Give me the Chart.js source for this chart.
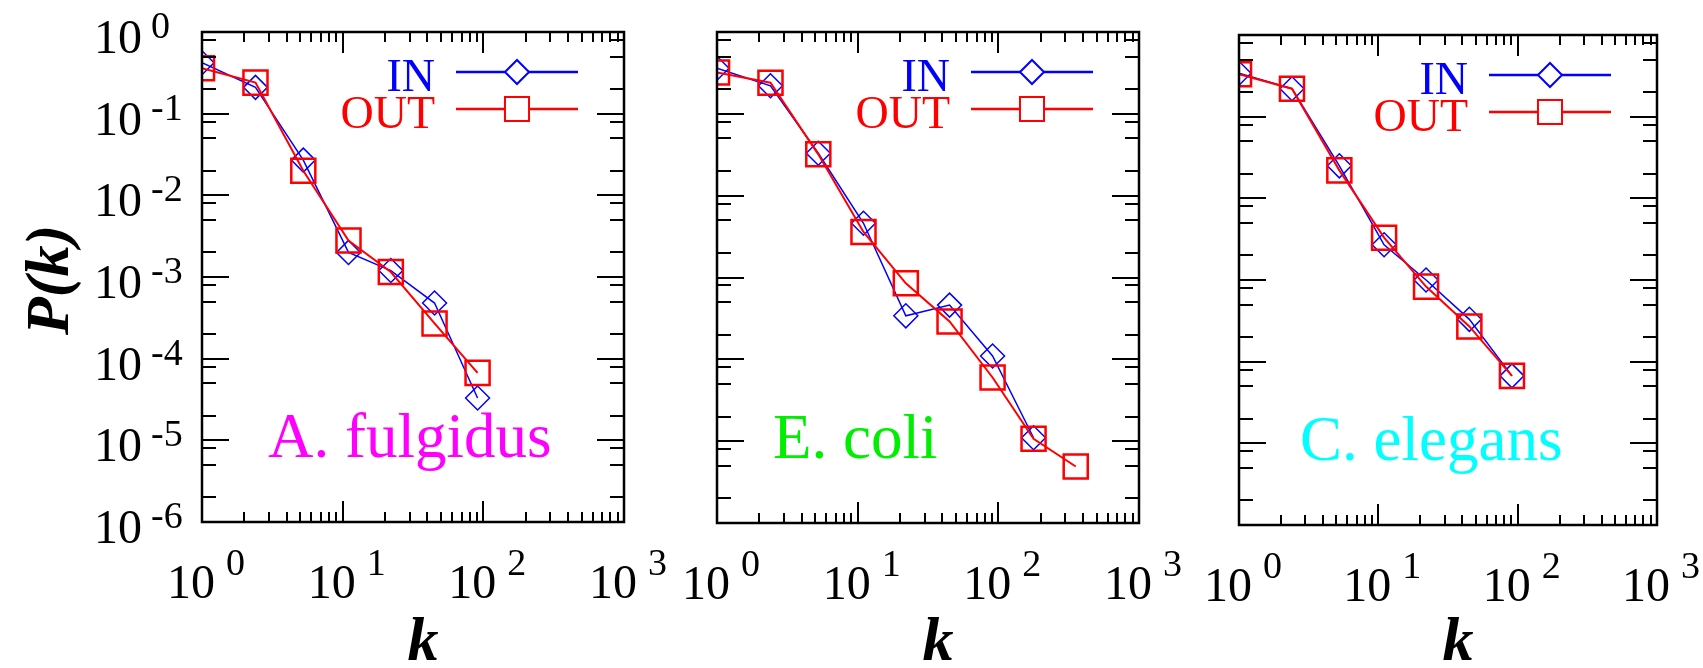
<!DOCTYPE html>
<html>
<head>
<meta charset="utf-8">
<script src="https://cdn.jsdelivr.net/npm/chart.js@4.4.0/dist/chart.umd.min.js"></script>
<style>
  html, body { margin: 0; padding: 0; background: #fff; }
  #wrap { position: relative; width: 1703px; height: 668px; }
  #wrap canvas { position: absolute; left: 0; top: 0; }
</style>
</head>
<body>
<div id="wrap">
  <canvas id="chartA" width="1703" height="668"></canvas>
  <canvas id="chartE" width="1703" height="668"></canvas>
  <canvas id="chartC" width="1703" height="668"></canvas>
</div>
<script>
// degree bins k, shared by all three panels
const kBins = [1, 2.4, 5.25, 11, 22, 45, 91, 178, 355];

// P(k) per organism
const inA  = [0.42, 0.21, 0.027, 0.0020, 0.0012, 0.00048, 0.000033];
const outA = [0.36, 0.24, 0.020, 0.0028, 0.00115, 0.00027, 0.000067];
const inE  = [0.36, 0.22, 0.033, 0.0046, 0.00034, 0.00046, 0.00011, 0.000011];
const outE = [0.32, 0.24, 0.032, 0.0036, 0.00085, 0.00029, 0.00006, 0.0000107, 0.0000049];
const inC  = [0.34, 0.22, 0.025, 0.0027, 0.0010, 0.00033, 0.000067];
const outC = [0.33, 0.22, 0.022, 0.0033, 0.00083, 0.00027, 0.000067];

// axis decades (exponents)
const xDecades = [0, 1, 2, 3];
const yDecades = [0, -1, -2, -3, -4, -5, -6];

const SERIF = '"Liberation Serif", "DejaVu Serif", "Times New Roman", serif';

function toPoints(vals) {
    return vals.map((v, i) => ({ x: kBins[i], y: v }));
}

// frame, inward ticks, tick labels, legend and organism name
const decor = {
    id: 'decor',
    afterDraw(chart, args, o) {
        const { ctx, chartArea: a, scales: { x, y } } = chart;
        ctx.save();
        ctx.strokeStyle = '#000';
        ctx.fillStyle = '#000';

        // ticks
        ctx.lineWidth = 2;
        ctx.beginPath();
        xDecades.forEach(e => {
            for (let m = 1; m < 10; m++) {
                const v = m * Math.pow(10, e);
                if (v <= 1 || v >= 1000) continue;
                const px = Math.round(x.getPixelForValue(v));
                const len = m === 1 ? 21 : 10;
                ctx.moveTo(px, a.bottom); ctx.lineTo(px, a.bottom - len);
                ctx.moveTo(px, a.top); ctx.lineTo(px, a.top + len);
            }
        });
        yDecades.forEach(e => {
            const marks = e > -6 ? [[1, e], [8, e - 1], [5, e - 1], [2, e - 1]] : [];
            marks.forEach(([m, p]) => {
                const v = m * Math.pow(10, p);
                if (v >= 1) return;
                const py = Math.round(y.getPixelForValue(v));
                const len = m === 1 ? 27 : 14;
                ctx.moveTo(a.left, py); ctx.lineTo(a.left + len, py);
                ctx.moveTo(a.right, py); ctx.lineTo(a.right - len, py);
            });
        });
        ctx.stroke();

        // frame
        ctx.lineWidth = 2.5;
        ctx.strokeRect(a.left, a.top, a.right - a.left, a.bottom - a.top);

        // x tick labels
        ctx.textAlign = 'left';
        ctx.textBaseline = 'alphabetic';
        xDecades.forEach(e => {
            const px = x.getPixelForValue(Math.pow(10, e));
            ctx.font = '48px ' + SERIF;
            ctx.fillText('10', px - 35, a.bottom + 76);
            ctx.font = '38px ' + SERIF;
            ctx.fillText(String(e), px + 24, a.bottom + 53);
        });

        // y tick labels + P(k), first panel only
        if (o.yLabels) {
            yDecades.forEach(e => {
                const py = y.getPixelForValue(Math.pow(10, e));
                ctx.font = '48px ' + SERIF;
                ctx.fillText('10', a.left - 108, py + 21);
                ctx.font = '38px ' + SERIF;
                ctx.fillText(String(e), a.left - 51, py + 6);
            });
            ctx.save();
            ctx.translate(68, 280);
            ctx.rotate(-Math.PI / 2);
            ctx.textAlign = 'center';
            ctx.font = 'italic bold 62px ' + SERIF;
            ctx.fillText('P(k)', 0, 0);
            ctx.restore();
        }

        // x title
        ctx.textAlign = 'center';
        ctx.font = 'italic bold 62px ' + SERIF;
        ctx.fillText('k', (a.left + a.right) / 2 + 10, 660);

        // organism name
        ctx.textAlign = 'left';
        ctx.font = '63px ' + SERIF;
        ctx.fillStyle = o.nameColor;
        ctx.fillText(o.name, a.left + o.nameDx, a.bottom - 65);

        // legend: text on the left, line + marker on the right
        const rows = [
            { ds: chart.data.datasets[1], y: a.top + 40 },
            { ds: chart.data.datasets[0], y: a.top + 77 }
        ];
        rows.forEach(r => {
            const c = r.ds.borderColor;
            ctx.fillStyle = c;
            ctx.strokeStyle = c;
            ctx.textAlign = 'right';
            ctx.font = '46px ' + SERIF;
            ctx.fillText(r.ds.label, a.right - 189, r.y + 19);
            ctx.lineWidth = 2.5;
            ctx.beginPath();
            ctx.moveTo(a.right - 168, r.y);
            ctx.lineTo(a.right - 46, r.y);
            ctx.stroke();
            const mx = a.right - 107;
            ctx.lineWidth = 2;
            ctx.fillStyle = '#fff';
            ctx.beginPath();
            if (r.ds.pointStyle === 'rectRot') {
                const h = r.ds.pointRadius;
                ctx.moveTo(mx - h, r.y); ctx.lineTo(mx, r.y - h);
                ctx.lineTo(mx + h, r.y); ctx.lineTo(mx, r.y + h);
                ctx.closePath();
            } else {
                const h = r.ds.pointRadius * Math.SQRT1_2;
                ctx.rect(mx - h, r.y - h, 2 * h, 2 * h);
            }
            ctx.fill();
            ctx.stroke();
        });

        ctx.restore();
    }
};

function makePanel(id, area, inVals, outVals, name, nameColor, nameDx, yLabels) {
    return new Chart(document.getElementById(id).getContext('2d'), {
        type: 'line',
        data: {
            datasets: [{
                label: 'OUT',
                data: toPoints(outVals),
                borderColor: '#ff0000',
                borderWidth: 2,
                pointStyle: 'rect',
                pointRadius: 17,
                pointBorderWidth: 2.5,
                pointBorderColor: '#ff0000',
                pointBackgroundColor: 'rgba(0,0,0,0)'
            }, {
                label: 'IN',
                data: toPoints(inVals),
                borderColor: '#0000ff',
                borderWidth: 1.5,
                pointStyle: 'rectRot',
                pointRadius: 12,
                pointBorderWidth: 1.5,
                pointBorderColor: '#0000ff',
                pointBackgroundColor: 'rgba(0,0,0,0)'
            }]
        },
        options: {
            responsive: false,
            animation: false,
            devicePixelRatio: 1,
            layout: {
                padding: { left: area[0], right: 1703 - area[1], top: area[2], bottom: 668 - area[3] }
            },
            scales: {
                x: { type: 'logarithmic', min: 1, max: 1000, display: false },
                y: { type: 'logarithmic', min: 1e-6, max: 1, display: false }
            },
            plugins: {
                legend: { display: false },
                tooltip: { enabled: false },
                decor: { name: name, nameColor: nameColor, nameDx: nameDx, yLabels: yLabels }
            }
        },
        plugins: [decor]
    });
}

// A. fulgidus
makePanel('chartA', [202, 624, 32, 522], inA, outA, 'A. fulgidus', '#ff00ff', 66, true);
// E. coli
makePanel('chartE', [717, 1139, 32, 523], inE, outE, 'E. coli', '#00ee00', 56, false);
// C. elegans
makePanel('chartC', [1239, 1657, 35, 525], inC, outC, 'C. elegans', '#00ffff', 61, false);
</script>
</body>
</html>
